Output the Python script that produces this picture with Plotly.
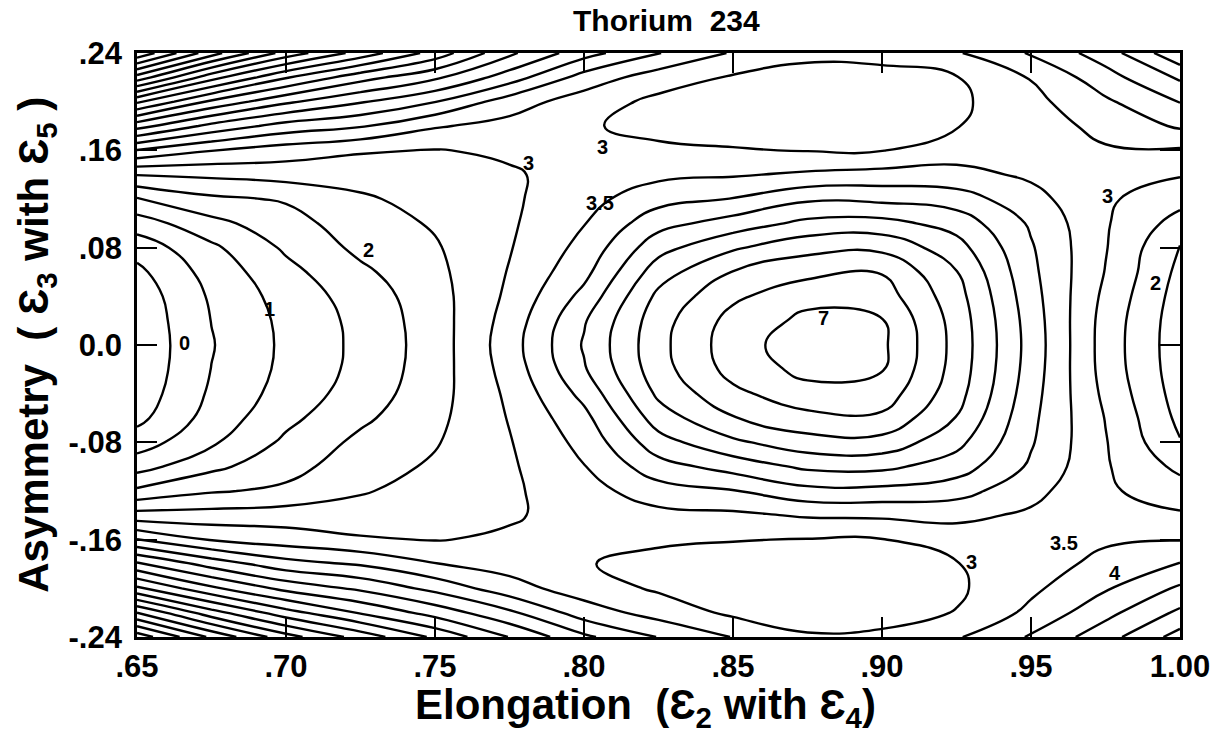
import plotly.graph_objects as go

# Grid of the deformation-energy surface for Th-234
elongation = [0.65, 0.675, 0.70, 0.725, 0.75, 0.775, 0.80, 0.825,
              0.85, 0.875, 0.90, 0.925, 0.95, 0.975, 1.00]
asymmetry = [-0.24, -0.22, -0.20, -0.18, -0.16, -0.14, -0.12, -0.10, -0.08,
             -0.06, -0.04, -0.02, 0.0, 0.02, 0.04, 0.06, 0.08, 0.10, 0.12,
             0.14, 0.16, 0.18, 0.20, 0.22, 0.24]

# Energy (MeV) along each elongation column, from asymmetry -0.24 up to +0.24
e_065 = [10.80, 9.00, 7.10, 5.60, 4.02, 2.70, 1.60, 0.80, 0.25, -0.14, -0.30, -0.37,
         -0.38, -0.36, -0.30, -0.12, 0.20, 0.75, 1.45, 2.52, 3.98, 5.70, 7.60, 9.80, 11.90]
e_0675 = [9.40, 7.70, 6.10, 4.80, 3.47, 2.70, 1.95, 1.38, 0.92, 0.70, 0.58, 0.51,
          0.47, 0.51, 0.57, 0.70, 0.90, 1.35, 1.90, 2.60, 3.52, 4.85, 6.40, 8.20, 10.20]
e_070 = [8.20, 6.70, 5.35, 4.20, 3.25, 2.75, 2.10, 1.82, 1.60, 1.37, 1.20, 1.12,
         1.10, 1.12, 1.20, 1.35, 1.58, 1.80, 2.05, 2.70, 3.25, 4.30, 5.60, 7.05, 8.80]
e_0725 = [7.30, 5.95, 4.90, 3.95, 3.05, 2.75, 2.45, 2.28, 2.12, 1.90, 1.73, 1.64,
          1.62, 1.64, 1.72, 1.90, 2.12, 2.27, 2.42, 2.72, 3.05, 4.05, 5.05, 6.20, 7.80]
e_075 = [6.40, 5.30, 4.35, 3.52, 2.98, 2.87, 2.72, 2.57, 2.46, 2.37, 2.30, 2.26,
         2.24, 2.26, 2.30, 2.37, 2.45, 2.55, 2.70, 2.85, 2.98, 3.55, 4.52, 5.60, 6.80]
e_0775 = [5.48, 4.60, 3.70, 3.30, 3.07, 2.95, 2.92, 2.93, 2.97, 3.03, 3.10, 3.20,
          3.27, 3.20, 3.10, 3.03, 2.97, 2.93, 2.92, 2.95, 3.07, 3.33, 3.75, 4.75, 5.60]
e_080 = [4.60, 3.75, 3.25, 3.02, 3.08, 3.17, 3.30, 3.48, 3.65, 3.85, 4.15, 4.45,
         4.55, 4.45, 4.15, 3.85, 3.65, 3.48, 3.32, 3.17, 3.08, 3.03, 3.25, 3.80, 4.70]
e_0825 = [3.98, 3.30, 2.93, 2.90, 3.05, 3.35, 3.78, 4.30, 4.80, 5.25, 5.60, 5.80,
          5.85, 5.80, 5.62, 5.27, 4.82, 4.32, 3.82, 3.38, 3.05, 2.92, 2.88, 3.25, 4.02]
e_085 = [3.48, 2.90, 2.72, 2.78, 3.02, 3.40, 3.97, 4.70, 5.40, 5.97, 6.38, 6.68,
         6.77, 6.68, 6.40, 6.02, 5.43, 4.72, 4.02, 3.45, 3.03, 2.80, 2.75, 2.95, 3.45]
e_0875 = [3.05, 2.78, 2.68, 2.75, 2.98, 3.55, 4.35, 5.10, 5.80, 6.35, 6.82, 7.15,
          7.30, 7.12, 6.85, 6.35, 5.84, 5.13, 4.42, 3.58, 2.98, 2.78, 2.72, 2.85, 3.10]
e_090 = [3.10, 2.80, 2.68, 2.73, 2.98, 3.58, 4.35, 5.12, 5.82, 6.40, 6.78, 7.03,
         7.10, 7.03, 6.75, 6.47, 5.88, 5.17, 4.38, 3.67, 2.98, 2.75, 2.70, 2.85, 3.15]
e_0925 = [3.45, 3.02, 2.92, 2.98, 3.25, 3.62, 4.20, 4.75, 5.15, 5.48, 5.70, 5.80,
          5.83, 5.80, 5.70, 5.52, 5.20, 4.80, 4.25, 3.65, 3.28, 2.98, 2.90, 2.98, 3.45]
e_095 = [4.05, 3.62, 3.40, 3.25, 3.27, 3.42, 3.65, 3.92, 4.05, 4.12, 4.20, 4.27,
         4.30, 4.27, 4.20, 4.12, 4.05, 3.93, 3.67, 3.42, 3.28, 3.25, 3.35, 3.53, 4.05]
e_0975 = [4.80, 4.35, 3.95, 3.65, 3.43, 3.20, 3.08, 3.05, 3.03, 2.98, 2.88, 2.80,
          2.78, 2.80, 2.88, 2.98, 3.03, 3.05, 3.08, 3.20, 3.45, 3.65, 3.92, 4.30, 4.75]
e_100 = [5.70, 5.10, 4.58, 4.03, 3.48, 3.07, 2.72, 2.38, 2.03, 1.88, 1.78, 1.72,
         1.70, 1.72, 1.78, 1.87, 1.97, 2.30, 2.67, 3.04, 3.44, 4.07, 4.52, 5.08, 5.90]

columns = [e_065, e_0675, e_070, e_0725, e_075, e_0775, e_080, e_0825,
           e_085, e_0875, e_090, e_0925, e_095, e_0975, e_100]
# rows indexed by asymmetry, columns by elongation
energy = [list(row) for row in zip(*columns)]

x_ticks = [0.65, 0.70, 0.75, 0.80, 0.85, 0.90, 0.95, 1.00]
x_tick_text = [".65", ".70", ".75", ".80", ".85", ".90", ".95", "1.00"]
y_ticks = [-0.24, -0.16, -0.08, 0.0, 0.08, 0.16, 0.24]
y_tick_text = ["-.24", "-.16", "-.08", "0.0", ".08", ".16", ".24"]

# contour labels: (text, elongation, asymmetry)
level_labels = [
    ("0", 0.666, 0.002), ("1", 0.6943, 0.030), ("2", 0.7277, 0.078),
    ("3", 0.7813, 0.150), ("3", 0.8063, 0.163), ("3.5", 0.8053, 0.117),
    ("7", 0.8803, 0.022), ("3", 0.9757, 0.1225), ("2", 0.9917, 0.051),
    ("3", 0.930, -0.178), ("3.5", 0.9610, -0.163), ("4", 0.9783, -0.187),
]

FONT = "Liberation Sans, Arial, Helvetica, sans-serif"

fig = go.Figure()
fig.add_trace(go.Contour(
    x=elongation, y=asymmetry, z=energy,
    contours=dict(start=0, end=12, size=0.5, coloring="none", showlabels=False),
    line=dict(color="black", width=2.4, smoothing=1.3),
    showscale=False, hoverinfo="skip",
))

annotations = []
for text, xv, yv in level_labels:
    annotations.append(dict(
        x=xv, y=yv, xref="x", yref="y", text=text, showarrow=False,
        font=dict(family=FONT, size=20, color="black", weight="bold"),
    ))

annotations.append(dict(
    x=0.4876, y=-0.121, xref="paper", yref="paper", showarrow=False,
    xanchor="center", yanchor="middle",
    text="Elongation\u00a0\u00a0(Ɛ<sub>2</sub> with Ɛ<sub>4</sub>)",
    font=dict(family=FONT, size=42, color="black", weight="bold"),
))
annotations.append(dict(
    x=-0.097, y=0.5, xref="paper", yref="paper", showarrow=False,
    xanchor="center", yanchor="middle", textangle=-90,
    text="Asymmetry\u00a0\u00a0(\u00a0Ɛ<sub>3</sub> with Ɛ<sub>5</sub>\u00a0)",
    font=dict(family=FONT, size=42, color="black", weight="bold"),
))
annotations.append(dict(
    x=0.5076, y=1.0565, xref="paper", yref="paper", showarrow=False,
    xanchor="center", yanchor="middle",
    text="Thorium\u00a0\u00a0234",
    font=dict(family=FONT, size=30, color="black", weight="bold"),
))

axis_common = dict(
    showline=True, linecolor="black", linewidth=2.8, mirror="ticks",
    ticks="inside", ticklen=20, tickwidth=2, tickcolor="black",
    showgrid=False, zeroline=False,
    tickfont=dict(family=FONT, size=31, color="black", weight="bold"),
)

fig.update_layout(
    width=1222, height=733,
    margin=dict(l=137, r=35, t=53, b=96),
    paper_bgcolor="white", plot_bgcolor="white",
    showlegend=False,
    annotations=annotations,
    xaxis=dict(range=[0.65, 1.0], tickvals=x_ticks, ticktext=x_tick_text,
               ticklabelstandoff=0, **axis_common),
    yaxis=dict(range=[-0.24, 0.24], tickvals=y_ticks, ticktext=y_tick_text,
               ticklabelstandoff=6, **axis_common),
)

fig.write_html("out.html")
